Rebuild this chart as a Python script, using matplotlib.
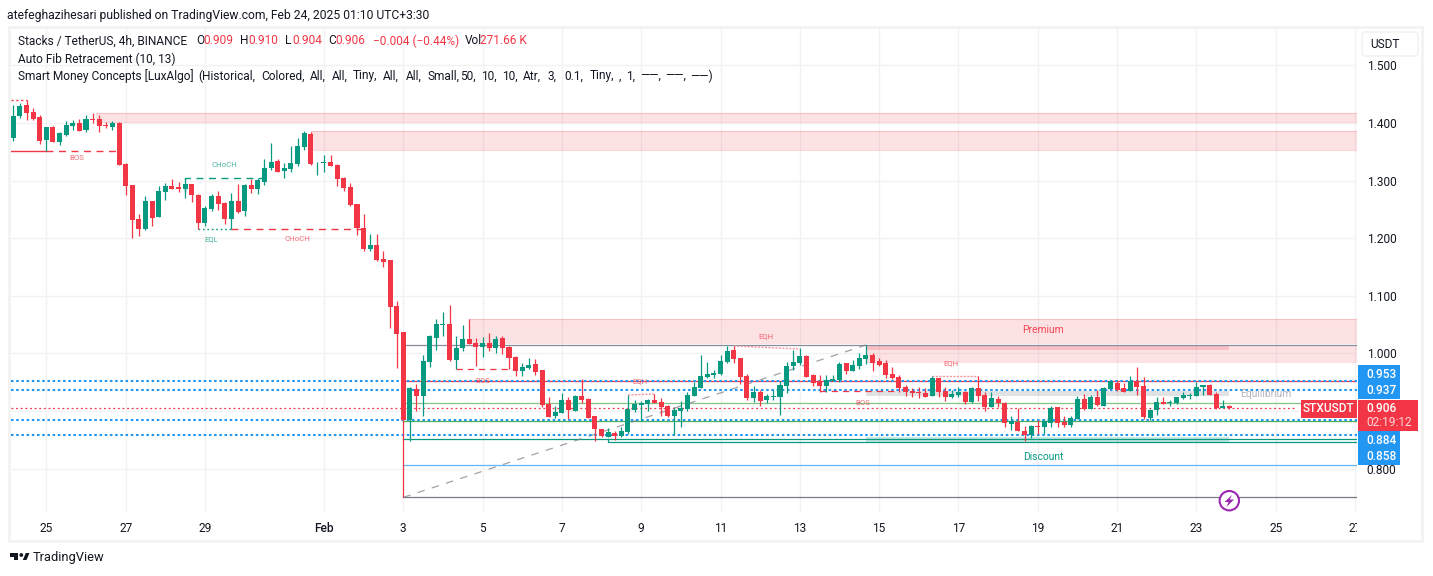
import matplotlib
matplotlib.use("Agg")
import matplotlib.pyplot as plt
from matplotlib.patches import Rectangle, FancyBboxPatch, Polygon, Circle
from matplotlib.transforms import Bbox

plt.rcParams['font.family'] = ['Roboto', 'DejaVu Sans']

UP = '#089981'
DOWN = '#f23645'
BLUE = '#2196f3'
INK = '#131722'
GRID = '#f2f2f3'

# 4h candles
opens = [
    1.3747, 1.4124, 1.4315, 1.4193, 1.4106, 1.3707, 1.3933, 1.3672, 1.3794, 1.395,
    1.4002, 1.3881, 1.4066, 1.4071, 1.3973, 1.3933, 1.4002, 1.329, 1.2926, 1.233,
    1.2162, 1.2648, 1.237, 1.2804, 1.2908, 1.2891, 1.2856, 1.2943, 1.2752, 1.2266,
    1.2509, 1.2735, 1.2613, 1.2335, 1.2648, 1.2474, 1.2926, 1.2856, 1.2978, 1.3221,
    1.3342, 1.3169, 1.3204, 1.329, 1.3585, 1.3811, 1.3302, 1.3308, 1.3325, 1.3273,
    1.3047, 1.2891, 1.2596, 1.2179, 1.1814, 1.1884, 1.1641, 1.1623, 1.0825, 1.0373,
    0.8845, 0.9383, 0.9262, 0.9852, 1.0269, 1.0494, 1.0512, 0.9887, 1.0095, 1.0251,
    1.0182, 1.0112, 1.0182, 1.0095, 1.0269, 1.0112, 0.9939, 0.9696, 0.9748, 0.9817,
    0.9713, 0.9123, 0.8915, 0.8967, 0.9192, 0.9001, 0.9262, 0.921, 0.8915, 0.8689,
    0.855, 0.862, 0.8567, 0.8637, 0.9019, 0.9105, 0.9123, 0.9192, 0.9158, 0.9088,
    0.8914, 0.9001, 0.9036, 0.9262, 0.9401, 0.9591, 0.9626, 0.9644, 0.9852, 1.0061,
    0.9922, 0.9609, 0.9227, 0.9331, 0.9193, 0.9245, 0.9245, 0.9436, 0.9783, 0.9835,
    0.9956, 0.9627, 0.9522, 0.9436, 0.9522, 0.954, 0.9835, 0.9696, 0.9783, 0.9904,
    0.9974, 0.9875, 0.9835, 0.9644, 0.9592, 0.9418, 0.9349, 0.9331, 0.9314, 0.9262,
    0.9574, 0.9349, 0.9245, 0.9279, 0.9331, 0.9158, 0.9401, 0.9279, 0.9071, 0.921,
    0.914, 0.8776, 0.881, 0.8654, 0.8585, 0.8742, 0.8724, 0.8794, 0.9071, 0.8817,
    0.8759, 0.8863, 0.921, 0.9037, 0.9245, 0.9089, 0.9384, 0.9488, 0.9401, 0.9349,
    0.9523, 0.9436, 0.888, 0.9019, 0.9158, 0.9135, 0.9141, 0.9228, 0.9262, 0.9262,
    0.9419, 0.9453, 0.9297, 0.9054, 0.909,
]
highs = [
    1.4315, 1.4344, 1.4401, 1.4257, 1.4135, 1.3938, 1.395, 1.3846, 1.4031, 1.4048,
    1.4071, 1.4141, 1.4176, 1.4135, 1.402, 1.4031, 1.402, 1.3302, 1.2926, 1.2422,
    1.2735, 1.2648, 1.2908, 1.296, 1.303, 1.2978, 1.3041, 1.2943, 1.277, 1.2561,
    1.277, 1.2822, 1.263, 1.2787, 1.2943, 1.2943, 1.303, 1.3047, 1.3377, 1.3655,
    1.3377, 1.3308, 1.3603, 1.3742, 1.3863, 1.3846, 1.3325, 1.3447, 1.3447, 1.329,
    1.3065, 1.296, 1.2596, 1.2422, 1.2075, 1.2075, 1.178, 1.1623, 1.0911, 1.0373,
    0.9418, 0.947, 0.9974, 1.032, 1.0599, 1.072, 1.0842, 1.0303, 1.0494, 1.0599,
    1.0269, 1.0286, 1.0355, 1.0303, 1.0303, 1.013, 0.9956, 0.9835, 0.9921, 0.9904,
    0.9713, 0.9244, 0.9088, 0.9314, 0.9244, 0.9279, 0.9557, 0.9227, 0.8915, 0.8689,
    0.8706, 0.8654, 0.8724, 0.9279, 0.9192, 0.9175, 0.921, 0.9296, 0.9227, 0.9105,
    0.9071, 0.9175, 0.9331, 0.9505, 0.9974, 0.9852, 0.9713, 0.9974, 1.013, 1.013,
    0.9922, 0.9644, 0.9436, 0.9366, 0.9297, 0.9366, 0.9522, 0.9858, 1.0061, 1.009,
    0.9974, 0.9644, 0.9627, 0.9627, 0.9627, 0.9852, 0.9835, 0.9887, 1.0008, 1.0147,
    1.0008, 0.9922, 0.9887, 0.9765, 0.9627, 0.9453, 0.9401, 0.9418, 0.9401, 0.9609,
    0.9574, 0.9418, 0.9366, 0.9418, 0.9349, 0.9418, 0.9609, 0.9331, 0.9331, 0.9262,
    0.9158, 0.8915, 0.9054, 0.8741, 0.8759, 0.8846, 0.8863, 0.9089, 0.9071, 0.8915,
    0.8915, 0.9262, 0.9297, 0.928, 0.9367, 0.9419, 0.9523, 0.9523, 0.9488, 0.961,
    0.9766, 0.9592, 0.9037, 0.9245, 0.9245, 0.9193, 0.9245, 0.9332, 0.9314, 0.9505,
    0.9453, 0.9471, 0.9332, 0.9193, 0.91,
]
lows = [
    1.3695, 1.4089, 1.4054, 1.4054, 1.3637, 1.351, 1.3672, 1.362, 1.3776, 1.388,
    1.3857, 1.3846, 1.4, 1.3852, 1.3915, 1.388, 1.3273, 1.2752, 1.2006, 1.204,
    1.2144, 1.2214, 1.237, 1.2665, 1.2856, 1.2804, 1.27, 1.263, 1.2156, 1.2214,
    1.2474, 1.2492, 1.2249, 1.2156, 1.244, 1.2388, 1.2787, 1.277, 1.2926, 1.3186,
    1.3151, 1.3047, 1.3151, 1.3256, 1.3533, 1.3273, 1.3099, 1.3151, 1.3256, 1.2908,
    1.2822, 1.2561, 1.2058, 1.178, 1.178, 1.1606, 1.1502, 1.0443, 0.9748, 0.7502,
    0.848, 0.9001, 0.8914, 0.9765, 1.006, 1.0303, 0.9869, 0.9725, 1.0043, 1.0165,
    0.9783, 0.9939, 1.0043, 1.0008, 0.9991, 0.973, 0.9609, 0.9609, 0.9725, 0.9626,
    0.9071, 0.8897, 0.888, 0.8967, 0.8862, 0.9001, 0.914, 0.888, 0.848, 0.855,
    0.855, 0.8498, 0.855, 0.8602, 0.8984, 0.8828, 0.9001, 0.914, 0.8914, 0.8897,
    0.8585, 0.8724, 0.9001, 0.9262, 0.9401, 0.9574, 0.9574, 0.9627, 0.9835, 0.9835,
    0.947, 0.9193, 0.9158, 0.9088, 0.914, 0.9193, 0.8932, 0.9314, 0.9713, 0.98,
    0.9592, 0.9436, 0.9331, 0.9331, 0.9522, 0.9505, 0.9644, 0.9696, 0.973, 0.9817,
    0.9696, 0.9783, 0.9574, 0.9557, 0.9331, 0.9262, 0.9245, 0.9227, 0.9245, 0.9262,
    0.9245, 0.9175, 0.9227, 0.9245, 0.9123, 0.914, 0.9175, 0.9002, 0.9071, 0.9071,
    0.8724, 0.8672, 0.8654, 0.8481, 0.8533, 0.8603, 0.8603, 0.8724, 0.8724, 0.8724,
    0.8724, 0.8863, 0.9019, 0.9037, 0.9089, 0.9089, 0.9384, 0.9349, 0.9332, 0.9349,
    0.928, 0.8863, 0.8846, 0.8933, 0.9124, 0.9089, 0.9124, 0.921, 0.921, 0.9262,
    0.928, 0.928, 0.9037, 0.9054, 0.904,
]
closes = [
    1.4124, 1.4297, 1.4181, 1.4071, 1.3695, 1.3933, 1.3678, 1.3828, 1.3967, 1.4002,
    1.3863, 1.4071, 1.4048, 1.395, 1.3956, 1.4002, 1.3273, 1.2908, 1.2318, 1.2162,
    1.2648, 1.2353, 1.2822, 1.2908, 1.2856, 1.2856, 1.2943, 1.2752, 1.2266, 1.2526,
    1.2735, 1.2596, 1.2335, 1.2648, 1.2457, 1.2926, 1.2856, 1.3013, 1.3221, 1.3325,
    1.3151, 1.3221, 1.3308, 1.3603, 1.3828, 1.329, 1.3308, 1.3325, 1.3256, 1.303,
    1.2874, 1.2579, 1.2179, 1.1814, 1.1884, 1.1623, 1.1589, 1.0807, 1.0339, 0.8845,
    0.9401, 0.9262, 0.987, 1.0303, 1.0512, 1.0512, 0.9887, 1.0095, 1.0251, 1.0165,
    1.0112, 1.0182, 1.0095, 1.0251, 1.0095, 0.9921, 0.9696, 0.9765, 0.98, 0.9678,
    0.9105, 0.8897, 0.8984, 0.9192, 0.9019, 0.9262, 0.9192, 0.888, 0.8689, 0.8567,
    0.8637, 0.8567, 0.8654, 0.9036, 0.9123, 0.914, 0.9192, 0.914, 0.9071, 0.8914,
    0.9019, 0.9053, 0.9279, 0.9418, 0.9609, 0.9644, 0.9661, 0.987, 1.0043, 0.9904,
    0.9592, 0.9227, 0.9331, 0.9175, 0.9262, 0.9262, 0.9453, 0.9783, 0.9852, 0.9956,
    0.9592, 0.9488, 0.9436, 0.954, 0.9557, 0.9817, 0.9696, 0.98, 0.9922, 0.9974,
    0.9835, 0.98, 0.9627, 0.9574, 0.9401, 0.9331, 0.9314, 0.932, 0.9245, 0.9574,
    0.9331, 0.9245, 0.9297, 0.9331, 0.9158, 0.9401, 0.9262, 0.9071, 0.9227, 0.914,
    0.8793, 0.8828, 0.8654, 0.8585, 0.8741, 0.8724, 0.8828, 0.9054, 0.8794, 0.8759,
    0.888, 0.921, 0.9037, 0.9245, 0.9106, 0.9401, 0.9523, 0.9367, 0.9332, 0.9523,
    0.9419, 0.8898, 0.9019, 0.9158, 0.9129, 0.9158, 0.9245, 0.928, 0.928, 0.9419,
    0.9453, 0.928, 0.9054, 0.9089, 0.906,
]

day_ticks = [5, 17, 29, 47, 59, 71, 83, 95, 107, 119, 131, 143, 155, 167, 179, 191, 203]
day_labels = ['25', '27', '29', 'Feb', '3', '5', '7', '9', '11', '13', '15', '17', '19',
              '21', '23', '25', '27']
price_ticks = [0.8, 0.9, 1.0, 1.1, 1.2, 1.3, 1.4, 1.5]
price_labels = ['0.800', '', '1.000', '1.100', '1.200', '1.300', '1.400', '1.500']

# horizontal levels drawn by the indicators
dotted_levels = [0.953, 0.937, 0.884, 0.858]
last_price = 0.906
fib_levels = [1.0141, 0.9516, 0.9134, 0.8822, 0.8509, 0.8058, 0.7502]
fib_colors = ['#8a8c9c', '#f23645', '#81c784', '#4caf50', '#089981', '#64b5f6', '#787b86']
fib_start = 59
fib_top_bar = 129

fig = plt.figure(figsize=(14.33, 5.76), dpi=100, facecolor='white')
W, H = 1433.0, 576.0
ax = fig.add_axes([11 / W, 1 - 512 / H, (1357 - 11) / W, (512 - 28) / H])
ax.set_xlim(-0.348, 203.3)
ax.set_ylim(0.7248, 1.5651)
for s in ax.spines.values():
    s.set_visible(False)
ax.set_xticks(day_ticks)
ax.set_xticklabels(day_labels)
ax.yaxis.tick_right()
ax.set_yticks(price_ticks)
ax.set_yticklabels(price_labels)
ax.tick_params(axis='both', length=0, labelsize=8.6, labelcolor=INK)
ax.tick_params(axis='x', pad=7.5)
ax.tick_params(axis='y', pad=7)
ax.grid(True, color=GRID, lw=1.0)
ax.set_axisbelow(True)
# the last date is cut off by the price scale in the original
last = ax.get_xticklabels()[-1]
last.set_clip_on(True)
last.set_clip_box(Bbox([[0, 0], [1357, 576]]))
ax.get_xticklabels()[3].set_fontweight('medium')

xmax = ax.get_xlim()[1]
xmin = ax.get_xlim()[0]


def zone(x0, x1, top, bottom, color, alpha):
    ax.add_patch(Rectangle((x0, bottom), x1 - x0, top - bottom, facecolor=color, alpha=alpha,
                           edgecolor='none', zorder=1))


def edge(x0, x1, y, color, alpha=0.2):
    ax.plot([x0, x1], [y, y], color=color, lw=0.8, alpha=alpha, zorder=1.1)


# order blocks and premium / equilibrium / discount zones
zone(12.5, xmax, 1.4176, 1.402, DOWN, 0.14)
edge(12.5, xmax, 1.4176, DOWN)
edge(12.5, xmax, 1.402, DOWN)
zone(45, xmax, 1.3863, 1.3533, DOWN, 0.14)
edge(45, xmax, 1.3863, DOWN)
edge(45, xmax, 1.3533, DOWN)
zone(69, xmax, 1.0599, 1.0165, DOWN, 0.14)
edge(69, xmax, 1.0599, DOWN)
zone(fib_top_bar, xmax, 1.0147, 0.9829, DOWN, 0.14)
zone(fib_top_bar, 184, 1.0147, 1.006, DOWN, 0.2)
zone(fib_top_bar, 184, 0.9349, 0.9262, '#787b86', 0.22)
zone(fib_top_bar, 184, 0.8556, 0.8458, UP, 0.22)

# fib retracement
for level, c in zip(fib_levels, fib_colors):
    ax.plot([fib_start, xmax], [level, level], color=c, lw=0.9, zorder=2)
ax.plot([90, 90, xmax], [0.8509, 0.8458, 0.8458], color=UP, lw=0.9, zorder=2)
ax.plot([fib_start, fib_top_bar], [0.7502, 1.0147], color='#787b86', lw=0.9, alpha=0.7,
        linestyle=(0, (6, 6)), zorder=2)

# full width dotted levels
for level in dotted_levels:
    ax.plot([xmin, xmax], [level, level], color=BLUE, lw=1.5, linestyle=(0, (1.2, 1.3)),
            dash_capstyle='butt', zorder=2.2)
ax.plot([xmin, 194], [last_price, last_price], color=DOWN, lw=0.9, linestyle=(0, (1.5, 2.2)),
        dash_capstyle='butt', zorder=2.2)

# market structure lines
ax.plot([-0.3, 5], [1.351, 1.351], color=DOWN, lw=1.0, zorder=2.5)
ax.plot([5, 16], [1.351, 1.351], color=DOWN, lw=1.0, linestyle=(0, (5, 4)), zorder=2.5)
ax.plot([-0.3, 2], [1.4396, 1.4396], color=DOWN, lw=1.0, linestyle=(0, (1.5, 2)), zorder=2.5)
ax.plot([26, 26, 39], [1.28, 1.3041, 1.3041], color=UP, lw=1.0, linestyle=(0, (5, 4)), zorder=2.5)
ax.plot([28, 33], [1.2156, 1.2156], color=UP, lw=1.0, linestyle=(0, (1.2, 2)), zorder=2.5)
ax.plot([33, 53], [1.2156, 1.2156], color=DOWN, lw=1.0, linestyle=(0, (5, 4)), zorder=2.5)
ax.plot([67, 76], [0.9725, 0.9725], color=DOWN, lw=0.9, linestyle=(0, (5, 4)), zorder=2.5)
ax.plot([122, 134], [0.9343, 0.9343], color=DOWN, lw=0.9, linestyle=(0, (5, 4)), zorder=2.5)
ax.plot([93, 97], [0.9279, 0.9296], color='#f7949c', lw=1.0, linestyle=(0, (1.5, 1)), zorder=2.5)
ax.plot([109, 119], [1.013, 1.0078], color='#f7949c', lw=1.0, linestyle=(0, (1.5, 1)), zorder=2.5)
ax.plot([139, 146], [0.9603, 0.9603], color='#f7949c', lw=1.0, linestyle=(0, (1.5, 1)), zorder=2.5)

# candles
for i, (o, h, l, c) in enumerate(zip(opens, highs, lows, closes)):
    col = UP if c >= o else DOWN
    ax.plot([i, i], [l, h], color=col, lw=0.9, solid_capstyle='butt', zorder=3)
    ax.add_patch(Rectangle((i - 0.38, min(o, c)), 0.76, max(abs(c - o), 0.0012), facecolor=col,
                           edgecolor='none', zorder=3.1))

# small labels from the indicator
small = [(9.6, 1.34, 'BOS', DOWN), (32, 1.3275, 'CHoCH', UP), (29.9, 1.198, 'EQL', UP),
         (43, 1.198, 'CHoCH', DOWN), (71, 0.9525, 'BOS', DOWN), (94.8, 0.9525, 'EQH', DOWN),
         (113.9, 1.0295, 'EQH', DOWN), (141.9, 0.9825, 'EQH', DOWN), (128.6, 0.9135, 'BOS', DOWN)]
for x, y, s, c in small:
    ax.text(x, y, s, color=c, alpha=0.72, fontsize=5.6, ha='center', va='center', zorder=4)
ax.text(155.8, 1.0414, 'Premium', color=DOWN, alpha=0.9, fontsize=7.4, ha='center', va='center', zorder=4)
ax.text(155.9, 0.8203, 'Discount', color=UP, fontsize=7.4, ha='center', va='center', zorder=4)
ax.text(189.5, 0.9305, 'Equilibrium', color='#b2b5be', fontsize=7.4, ha='center', va='center', zorder=4)

# everything placed in picture pixels goes on a full-size overlay
ov = fig.add_axes([0, 0, 1, 1], facecolor='none')
ov.set_xlim(0, W)
ov.set_ylim(H, 0)
ov.axis('off')

# chart frame
ov.add_patch(Rectangle((9.5, 26.5), 1412.5, 514, facecolor='none', edgecolor=GRID, lw=1.9))

# publish line and legend
ov.text(7, 15, 'atefeghazihesari published on TradingView.com, Feb 24, 2025 01:10 UTC+3:30',
        color=INK, fontsize=8.75, va='center')
ov.text(18, 41, 'Stacks / TetherUS, 4h, BINANCE', color=INK, fontsize=8.6, va='center')
legend_x = [196, 203, 240, 248, 285, 292, 328, 335, 373, 465, 480]
legend_s = ['O', '0.909', 'H', '0.910', 'L', '0.904', 'C', '0.906', '\u22120.004 (\u22120.44%)', 'Vol', '271.66 K']
for k, (x, s) in enumerate(zip(legend_x, legend_s)):
    col = DOWN if k % 2 == 1 or k in (8, 10) else INK
    if s == 'Vol':
        col = INK
    ov.text(x, 41, s, color=col, fontsize=8.6, va='center')
ov.text(18, 59, 'Auto Fib Retracement (10, 13)', color=INK, fontsize=8.6, va='center')
ov.text(18, 76, 'Smart Money Concepts [LuxAlgo]', color=INK, fontsize=8.6, va='center')
param_x = [198, 261, 310, 332, 353, 383, 406, 428, 460, 481, 502, 523, 548, 564, 590, 619,
           626, 640, 665, 690]
param_s = ['(Historical,', 'Colored,', 'All,', 'All,', 'Tiny,', 'All,', 'All,', 'Small,', '50,',
           '10,', '10,', 'Atr,', '3,', '0.1,', 'Tiny,', ',', '1,', '\u2014\u2014,', '\u2014\u2014,',
           '\u2014\u2014)']
for x, s in zip(param_x, param_s):
    ov.text(x, 76, s, color=INK, fontsize=8.6, va='center')

# currency button
ov.add_patch(FancyBboxPatch((1362, 32), 56, 24, boxstyle='round,pad=0,rounding_size=3',
                            facecolor='white', edgecolor=GRID, lw=1.2))
ov.text(1385, 44, 'USDT', color=INK, fontsize=8.6, ha='center', va='center')

# price tags
ov.add_patch(Rectangle((1358, 365), 42.5, 34, facecolor=BLUE, edgecolor='none'))
ov.add_patch(Rectangle((1358, 431), 42.5, 34, facecolor=BLUE, edgecolor='none'))
ov.add_patch(Rectangle((1358, 400), 60, 31, facecolor=DOWN, edgecolor='none'))
ov.add_patch(Rectangle((1301, 400), 56, 17.5, facecolor=DOWN, edgecolor='none'))
tags = [(374, '0.953'), (390.5, '0.937'), (440, '0.884'), (456.5, '0.858')]
for y, s in tags:
    ov.text(1366.5, y, s, color='white', fontsize=8.6, fontweight='medium', va='center')
ov.text(1366.5, 408.5, '0.906', color='white', fontsize=8.6, fontweight='medium', va='center')
ov.text(1366.5, 423, '02:19:12', color='#fcd5d8', fontsize=8.6, va='center')
ov.text(1329, 408.5, 'STXUSDT', color='white', fontsize=8.6, fontweight='medium', ha='center', va='center')

# bar-replay lightning marker
ov.add_patch(Circle((1229.3, 500.7), 9.7, facecolor='white', edgecolor='#9c27b0', lw=1.5))
ov.add_patch(Polygon([(1232, 495), (1224.5, 502), (1228.5, 502), (1226.5, 507), (1234, 499.5),
                      (1229.8, 499.5)], closed=True, facecolor='#9c27b0', edgecolor='none'))

# TradingView logo
ov.add_patch(Polygon([(10, 553), (18.5, 553), (18.5, 560), (14.5, 560), (14.5, 556.5), (10, 556.5)],
                     closed=True, facecolor=INK, edgecolor='none'))
ov.add_patch(Circle((21.3, 555), 1.9, facecolor=INK, edgecolor='none'))
ov.add_patch(Polygon([(22.8, 560), (25.8, 553), (29.5, 553), (26.5, 560)], closed=True,
                     facecolor=INK, edgecolor='none'))
ov.text(33, 558, 'TradingView', color=INK, fontsize=9.3, va='center')

plt.savefig('out.png', dpi=100)
